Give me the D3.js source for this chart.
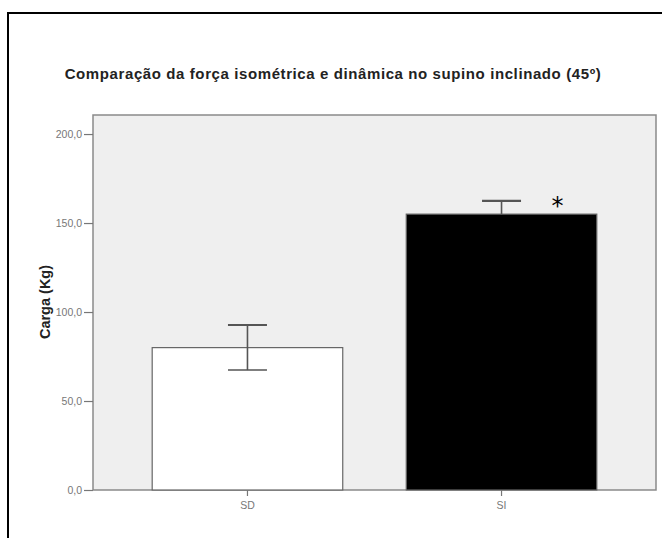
<!DOCTYPE html>
<html>
<head>
<meta charset="utf-8">
<script src="https://cdn.jsdelivr.net/npm/d3@7"></script>
<style>
  body { margin: 0; background: #fff; }
  svg { display: block; font-family: "Liberation Sans", Arial, sans-serif; }
</style>
</head>
<body>
<div id="chart"></div>
<script>
// Data
const categories = ["SD", "SI"];
const means = [80, 155];
const errUpper = [92.7, 162.4];
const errLower = [67.4, 155];
const barFills = ["#ffffff", "#000000"];
const yTicks = [0, 50, 100, 150, 200];
const titleText = "Comparação da força isométrica e dinâmica no supino inclinado (45º)";
const yLabel = "Carga (Kg)";

const width = 662, height = 538;
const margin = { top: 115, right: 6, bottom: 48, left: 93 };
const innerWidth = width - margin.left - margin.right;
const innerHeight = height - margin.top - margin.bottom;

const root = d3.select("#chart").append("svg")
  .attr("width", width)
  .attr("height", height);

// Outer frame (runs off the right and bottom edges)
root.append("rect")
  .attr("x", 8).attr("y", 13)
  .attr("width", 700).attr("height", 600)
  .attr("fill", "none")
  .attr("stroke", "#000")
  .attr("stroke-width", 2);

// Title
root.append("text")
  .attr("x", 333)
  .attr("y", 79)
  .attr("text-anchor", "middle")
  .attr("font-size", 15)
  .attr("letter-spacing", 0.6)
  .attr("fill", "#222")
  .attr("font-weight", "bold")
  .text(titleText);

const svg = root.append("g")
  .attr("transform", `translate(${margin.left},${margin.top})`);

const x = d3.scaleBand()
  .domain(categories)
  .range([0, innerWidth])
  .paddingInner(0.25)
  .paddingOuter(0.233);

const y = d3.scaleLinear()
  .domain([0, 210.7])
  .range([innerHeight, 0]);

// Plot background
svg.append("rect")
  .attr("width", innerWidth)
  .attr("height", innerHeight)
  .attr("fill", "#efefef")
  .attr("stroke", "#8a8a8a")
  .attr("stroke-width", 1.5);

// Bars
svg.selectAll(".bar")
  .data(categories)
  .join("rect")
  .attr("class", "bar")
  .attr("x", d => x(d))
  .attr("y", (d, i) => y(means[i]))
  .attr("width", x.bandwidth())
  .attr("height", (d, i) => y(0) - y(means[i]))
  .attr("fill", (d, i) => barFills[i])
  .attr("stroke", "#666")
  .attr("stroke-width", 1.2);

// Error bars
const capHalf = 19.5;
categories.forEach((c, i) => {
  const cx = x(c) + x.bandwidth() / 2;
  const g = svg.append("g")
    .attr("stroke", "#555")
    .attr("stroke-width", 1.6);
  g.append("line")
    .attr("x1", cx).attr("x2", cx)
    .attr("y1", y(errUpper[i])).attr("y2", y(errLower[i]));
  g.append("line")
    .attr("x1", cx - capHalf).attr("x2", cx + capHalf)
    .attr("y1", y(errUpper[i])).attr("y2", y(errUpper[i]))
    .attr("stroke-width", 2.2);
  if (errLower[i] < means[i]) {
    g.append("line")
      .attr("x1", cx - capHalf).attr("x2", cx + capHalf)
      .attr("y1", y(errLower[i])).attr("y2", y(errLower[i]));
  }
});

// Significance marker
svg.append("text")
  .attr("x", x("SI") + x.bandwidth() / 2 + 56)
  .attr("y", y(162.4) + 13)
  .attr("text-anchor", "middle")
  .attr("font-size", 24)
  .attr("font-family", "DejaVu Sans, sans-serif")
  .attr("fill", "#000")
  .text("*");

// Y axis
const yAxis = svg.append("g")
  .call(d3.axisLeft(y)
    .tickValues(yTicks)
    .tickSize(9)
    .tickPadding(2)
    .tickFormat(d => d3.format(".1f")(d).replace(".", ",")));
yAxis.select(".domain").remove();
yAxis.selectAll(".tick line").attr("stroke", "#777").attr("stroke-width", 1.2);
yAxis.selectAll(".tick text")
  .attr("fill", "#777")
  .attr("font-size", 10.5)
  .attr("font-family", "Liberation Sans, Arial, sans-serif");

// X axis
const xAxis = svg.append("g")
  .attr("transform", `translate(0,${innerHeight})`)
  .call(d3.axisBottom(x).tickSize(6).tickPadding(6));
xAxis.select(".domain").remove();
xAxis.selectAll(".tick line").attr("stroke", "#777").attr("stroke-width", 1.2);
xAxis.selectAll(".tick text")
  .attr("fill", "#777")
  .attr("font-size", 10.5)
  .attr("font-family", "Liberation Sans, Arial, sans-serif");

// Y label
root.append("text")
  .attr("transform", `translate(50,302) rotate(-90)`)
  .attr("text-anchor", "middle")
  .attr("font-size", 14.5)
  .attr("font-weight", "bold")
  .attr("fill", "#222")
  .text(yLabel);
</script>
</body>
</html>
